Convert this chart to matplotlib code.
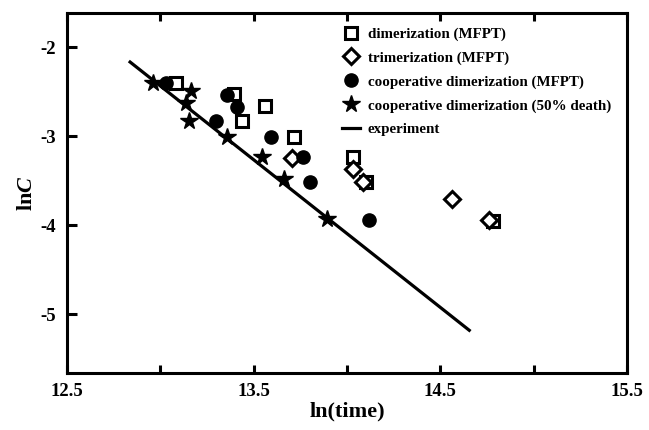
import matplotlib
matplotlib.use("Agg")
import matplotlib.pyplot as plt

plt.rcParams['font.family'] = ['Liberation Serif', 'DejaVu Serif']
plt.rcParams['font.weight'] = 'bold'
plt.rcParams['mathtext.fontset'] = 'custom'
plt.rcParams['mathtext.it'] = 'Liberation Serif:italic:bold'
plt.rcParams['mathtext.rm'] = 'Liberation Serif:bold'

# Data
dim_x = [13.084, 13.396, 13.439, 13.561, 13.716, 14.030, 14.102, 14.784]
dim_y = [-2.405, -2.525, -2.829, -2.657, -3.006, -3.237, -3.515, -3.948]

tri_x = [13.708, 14.032, 14.084, 14.561, 14.762]
tri_y = [-3.249, -3.366, -3.512, -3.706, -3.943]

coop_x = [13.030, 13.359, 13.412, 13.298, 13.591, 13.766, 13.802, 14.118]
coop_y = [-2.398, -2.537, -2.668, -2.829, -3.006, -3.237, -3.512, -3.935]

death_x = [12.962, 13.164, 13.137, 13.154, 13.356, 13.543, 13.662, 13.894]
death_y = [-2.405, -2.492, -2.630, -2.826, -3.012, -3.231, -3.485, -3.924]

exp_x = [12.838, 14.655]
exp_y = [-2.165, -5.180]

x_ticks = [12.5, 13.0, 13.5, 14.0, 14.5, 15.0, 15.5]
x_ticklabels = ['12.5', '', '13.5', '', '14.5', '', '15.5']
y_ticks = [-2, -3, -4, -5]
y_ticklabels = ['-2', '-3', '-4', '-5']

fig = plt.figure(figsize=(6.49, 4.30), dpi=100)
ax = fig.add_axes([67/649, 1-373/430, 560/649, 360/430])

ax.plot(dim_x, dim_y, linestyle='none', marker='s', markersize=8.5,
        markerfacecolor='white', markeredgecolor='black', markeredgewidth=2.2,
        label='dimerization (MFPT)', zorder=3)
ax.plot(tri_x, tri_y, linestyle='none', marker='D', markersize=8,
        markerfacecolor='white', markeredgecolor='black', markeredgewidth=2.2,
        label='trimerization (MFPT)', zorder=3)
ax.plot(coop_x, coop_y, linestyle='none', marker='o', markersize=9.5,
        markerfacecolor='black', markeredgecolor='black',
        label='cooperative dimerization (MFPT)', zorder=3)
ax.plot(death_x, death_y, linestyle='none', marker='*', markersize=13,
        markerfacecolor='black', markeredgecolor='black',
        label='cooperative dimerization (50% death)', zorder=4)
ax.plot(exp_x, exp_y, color='black', linewidth=2.3, label='experiment', zorder=2)

ax.set_xlim(12.5, 15.5)
ax.set_ylim(-5.66, -1.614)
ax.set_xticks(x_ticks)
ax.set_xticklabels(x_ticklabels)
ax.set_yticks(y_ticks)
ax.set_yticklabels(y_ticklabels)

for sp in ax.spines.values():
    sp.set_linewidth(2.2)

ax.tick_params(axis='x', direction='in', length=6, width=2.2, top=True,
               labelsize=13.5, pad=7)
ax.tick_params(axis='y', direction='in', length=7, width=2.2, right=False,
               labelsize=13.5, pad=8)
for lab in ax.get_xticklabels() + ax.get_yticklabels():
    lab.set_fontweight('bold')

ax.set_xlabel('ln(time)', fontsize=16, fontweight='bold', labelpad=1)
ax.set_ylabel(r'ln$C$', fontsize=16, fontweight='bold', labelpad=2)

leg = ax.legend(loc='upper left', bbox_to_anchor=(0.465, 1.0), frameon=False,
                prop={'family': 'Liberation Serif', 'weight': 'bold', 'size': 10.8},
                handlelength=1.2, handletextpad=0.55, labelspacing=0.68,
                numpoints=1, borderaxespad=0.55)

fig.savefig('out.png', dpi=100)
